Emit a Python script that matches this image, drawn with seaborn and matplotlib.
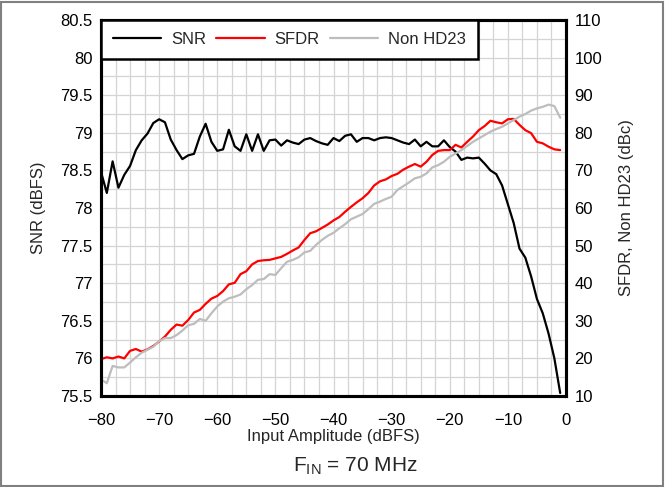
import matplotlib
matplotlib.use("Agg")
import matplotlib.pyplot as plt
import seaborn as sns
import pandas as pd
from matplotlib.ticker import MultipleLocator, FuncFormatter
from matplotlib.patches import Rectangle

# ---- data ----
amplitude = list(range(-80, 0))  # Input Amplitude (dBFS)

snr = [78.48, 78.20, 78.62, 78.27, 78.44, 78.56, 78.77, 78.90, 78.99, 79.13,
       79.18, 79.14, 78.91, 78.77, 78.65, 78.70, 78.72, 78.95, 79.12, 78.88,
       78.76, 78.78, 79.04, 78.82, 78.76, 78.98, 78.76, 78.98, 78.76, 78.90,
       78.91, 78.83, 78.90, 78.87, 78.85, 78.91, 78.93, 78.89, 78.86, 78.84,
       78.93, 78.89, 78.96, 78.98, 78.88, 78.93, 78.93, 78.90, 78.93, 78.94,
       78.93, 78.90, 78.87, 78.85, 78.91, 78.82, 78.88, 78.82, 78.82, 78.90,
       78.81, 78.75, 78.64, 78.67, 78.66, 78.67, 78.59, 78.50, 78.45, 78.30,
       78.05, 77.80, 77.46, 77.34, 77.09, 76.79, 76.60, 76.33, 76.00, 75.54]

sfdr = [19.8, 20.3, 20.0, 20.5, 20.0, 22.0, 22.5, 21.8, 22.4, 23.3,
        24.5, 25.8, 27.6, 29.0, 28.7, 30.2, 32.2, 32.9, 34.5, 35.9,
        36.6, 37.9, 39.7, 40.1, 42.4, 43.2, 45.0, 45.9, 46.1, 46.2,
        46.6, 47.0, 47.8, 48.7, 49.5, 51.5, 53.3, 53.8, 54.7, 55.6,
        56.7, 57.6, 59.0, 60.3, 61.5, 62.6, 64.0, 66.0, 67.1, 67.6,
        68.5, 69.1, 70.2, 71.0, 71.7, 71.0, 72.3, 74.1, 75.2, 75.4,
        75.4, 76.8, 76.1, 77.6, 79.0, 80.7, 81.8, 83.2, 82.8, 82.5,
        83.6, 83.7, 82.1, 80.7, 79.9, 77.6, 77.2, 76.3, 75.6, 75.4]

non_hd23 = [14.4, 13.4, 18.0, 17.6, 17.6, 18.9, 20.3, 21.5, 22.3, 23.1,
            24.6, 25.4, 25.4, 26.2, 27.4, 28.8, 29.2, 30.5, 30.0, 32.0,
            33.8, 35.1, 36.0, 36.4, 37.0, 38.4, 39.5, 40.9, 41.1, 42.4,
            42.2, 44.0, 45.7, 46.2, 46.9, 48.2, 48.6, 50.2, 51.5, 52.6,
            53.4, 54.6, 55.7, 57.0, 57.7, 58.4, 59.7, 61.1, 61.7, 62.4,
            63.0, 64.8, 65.8, 66.8, 67.9, 68.3, 69.2, 70.8, 71.4, 72.3,
            73.6, 74.5, 75.4, 76.5, 77.6, 78.5, 79.4, 80.3, 81.0, 81.6,
            82.5, 83.4, 84.3, 85.0, 85.9, 86.5, 86.9, 87.5, 87.1, 84.0]

left_ticks = [75.5, 76, 76.5, 77, 77.5, 78, 78.5, 79, 79.5, 80, 80.5]
right_ticks = [10, 20, 30, 40, 50, 60, 70, 80, 90, 100, 110]
x_ticks = [-80, -70, -60, -50, -40, -30, -20, -10, 0]

df = pd.DataFrame({"amp": amplitude, "SNR": snr, "SFDR": sfdr, "Non HD23": non_hd23})

# ---- style ----
sns.set_theme(style="white")
plt.rcParams["font.family"] = ["Liberation Sans", "DejaVu Sans"]
plt.rcParams["mathtext.fontset"] = "custom"
plt.rcParams["mathtext.rm"] = "Liberation Sans"
plt.rcParams["mathtext.it"] = "Liberation Sans"

FS = 12
fig = plt.figure(figsize=(6.66, 4.87), dpi=100)
W, H = 666, 487
ax = fig.add_axes([101 / W, 1 - 396 / H, (566 - 101) / W, (396 - 20) / H])
ax2 = ax.twinx()

sns.lineplot(data=df, x="amp", y="SNR", ax=ax, color="black", lw=1.6, label="SNR", legend=False)
sns.lineplot(data=df, x="amp", y="SFDR", ax=ax2, color="#ff0000", lw=1.6, label="SFDR", legend=False)
sns.lineplot(data=df, x="amp", y="Non HD23", ax=ax2, color="#bdbdbd", lw=1.6, label="Non HD23", legend=False)

ax.set_xlim(-80, 0)
ax.set_ylim(75.5, 80.5)
ax2.set_ylim(10, 110)

ax.set_xticks(x_ticks)
ax.set_yticks(left_ticks)
ax2.set_yticks(right_ticks)
ax.xaxis.set_minor_locator(MultipleLocator(2.5))
ax.yaxis.set_minor_locator(MultipleLocator(0.25))
ax.yaxis.set_major_formatter(FuncFormatter(lambda v, p: f"{v:g}"))

ax.grid(True, which="both", color="#d4d4d4", lw=0.9)
ax2.grid(False)
ax.set_axisbelow(True)

ax.tick_params(axis="both", which="both", length=0, labelsize=FS, colors="black")
ax.tick_params(axis="x", pad=12)
ax.tick_params(axis="y", pad=6)
ax2.tick_params(axis="y", which="both", length=0, labelsize=FS, pad=6, colors="black")

for a in (ax, ax2):
    for s in a.spines.values():
        s.set_color("black")
        s.set_linewidth(2.2)

ax.set_xlabel("Input Amplitude (dBFS)", fontsize=FS, labelpad=1)
ax.set_ylabel("SNR (dBFS)", fontsize=FS, labelpad=10)
ax2.set_ylabel("SFDR, Non HD23 (dBc)", fontsize=FS, labelpad=12)

handles = [ax.lines[0], ax2.lines[0], ax2.lines[1]]
leg = ax2.legend(handles, ["SNR", "SFDR", "Non HD23"], loc="upper left",
                 bbox_to_anchor=(0, 1), borderaxespad=0, ncol=3, fontsize=FS,
                 frameon=True, fancybox=False, framealpha=1, edgecolor="black",
                 handlelength=2.9, handletextpad=0.6, columnspacing=0.6,
                 borderpad=0.72)
leg.get_frame().set_linewidth(1.8)
leg.set_zorder(10)

fig.text(355 / W, 1 - 466 / H, r"F$_{\mathregular{IN}}$ = 70 MHz", ha="center", va="center",
         fontsize=15)

fig.patches.append(Rectangle((1 / W, 1 / H), 662 / W, 484 / H, transform=fig.transFigure,
                             fill=False, edgecolor="#808080", lw=1.5))

fig.savefig("out.png", dpi=100)
